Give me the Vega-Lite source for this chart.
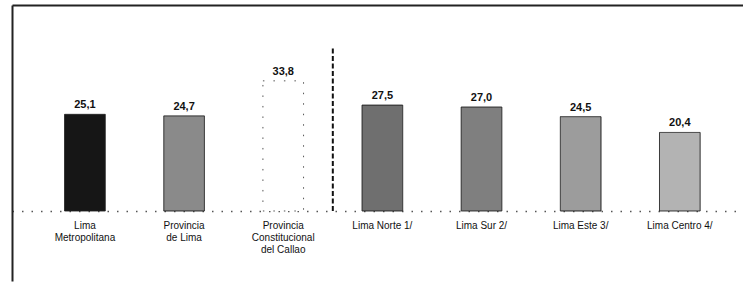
{
  "$schema": "https://vega.github.io/schema/vega-lite/v6.json",
  "width": 731,
  "height": 276,
  "autosize": {"type": "none"},
  "padding": {"left": 12, "top": 5, "right": 0, "bottom": 2},
  "background": "white",
  "datasets": {
    "bars": [
      {"region": "Lima Metropolitana", "value": 25.1},
      {"region": "Provincia de Lima", "value": 24.7},
      {"region": "Provincia Constitucional del Callao", "value": 33.8},
      {"region": "Lima Norte 1/", "value": 27.5},
      {"region": "Lima Sur 2/", "value": 27.0},
      {"region": "Lima Este 3/", "value": 24.5},
      {"region": "Lima Centro 4/", "value": 20.4}
    ],
    "divider": [
      {"region": "Lima Norte 1/", "bottom": 0, "top": 42.6}
    ]
  },
  "layer": [
    {
      "data": {"name": "bars"},
      "mark": {"type": "bar", "width": {"band": 0.41}, "stroke": "#222", "strokeWidth": 1},
      "encoding": {
        "x": {
          "field": "region", "type": "nominal", "sort": null,
          "scale": {
            "domain": ["Lima Metropolitana", "Provincia de Lima", "Provincia Constitucional del Callao", "Lima Norte 1/", "Lima Sur 2/", "Lima Este 3/", "Lima Centro 4/"],
            "paddingInner": 0, "paddingOuter": 0.1865, "align": 0.632
          },
          "axis": {
            "orient": "bottom", "title": null, "offset": -70,
            "ticks": false, "labelAngle": 0, "labelPadding": 9,
            "labelBaseline": "top",
            "labelFont": "Liberation Sans", "labelFontSize": 10,
            "labelColor": "#111", "labelLineHeight": 12,
            "domainColor": "#555", "domainDash": [1.5, 8], "domainWidth": 1.5,
            "labelExpr": "datum.label === 'Lima Metropolitana' ? ['Lima', 'Metropolitana'] : datum.label === 'Provincia de Lima' ? ['Provincia', 'de Lima'] : datum.label === 'Provincia Constitucional del Callao' ? ['Provincia', 'Constitucional', 'del Callao'] : datum.label"
          }
        },
        "y": {
          "field": "value", "type": "quantitative",
          "scale": {"domain": [-18.18, 53.5], "zero": false, "nice": false},
          "axis": {
            "orient": "left", "title": null, "labels": false, "ticks": false,
            "grid": false, "domain": true, "domainColor": "#222", "domainWidth": 2
          }
        },
        "fill": {
          "field": "region", "type": "nominal", "legend": null,
          "scale": {
            "domain": ["Lima Metropolitana", "Provincia de Lima", "Provincia Constitucional del Callao", "Lima Norte 1/", "Lima Sur 2/", "Lima Este 3/", "Lima Centro 4/"],
            "range": ["#161616", "#8a8a8a", "#ffffff", "#6f6f6f", "#7f7f7f", "#9c9c9c", "#b3b3b3"]
          }
        },
        "strokeDash": {
          "condition": {"test": "datum.region === 'Provincia Constitucional del Callao'", "value": [1.5, 9]},
          "value": [1, 0]
        },
        "stroke": {
          "condition": {"test": "datum.region === 'Provincia Constitucional del Callao'", "value": "#555"},
          "value": "#222"
        }
      }
    },
    {
      "data": {"name": "bars"},
      "mark": {"type": "text", "baseline": "bottom", "dy": -4, "font": "Liberation Sans", "fontSize": 11, "fontWeight": "bold", "color": "#111"},
      "encoding": {
        "x": {"field": "region", "type": "nominal", "sort": null, "axis": null},
        "y": {"field": "value", "type": "quantitative"},
        "text": {"field": "value", "type": "quantitative", "format": ".1f"}
      }
    },
    {
      "data": {"name": "divider"},
      "mark": {"type": "rule", "color": "#111", "strokeWidth": 2, "strokeDash": [5, 2.5]},
      "encoding": {
        "x": {
          "field": "region", "type": "nominal", "sort": null, "bandPosition": 0,
          "axis": {
            "orient": "top", "title": null, "labels": false, "ticks": false,
            "grid": false, "domain": true, "domainColor": "#222", "domainWidth": 2
          }
        },
        "y": {"field": "bottom", "type": "quantitative"},
        "y2": {"field": "top"}
      }
    }
  ],
  "resolve": {"axis": {"x": "independent"}},
  "config": {
    "view": {"stroke": null},
    "locale": {"number": {"decimal": ",", "thousands": ".", "grouping": [3], "currency": ["", ""]}}
  }
}
